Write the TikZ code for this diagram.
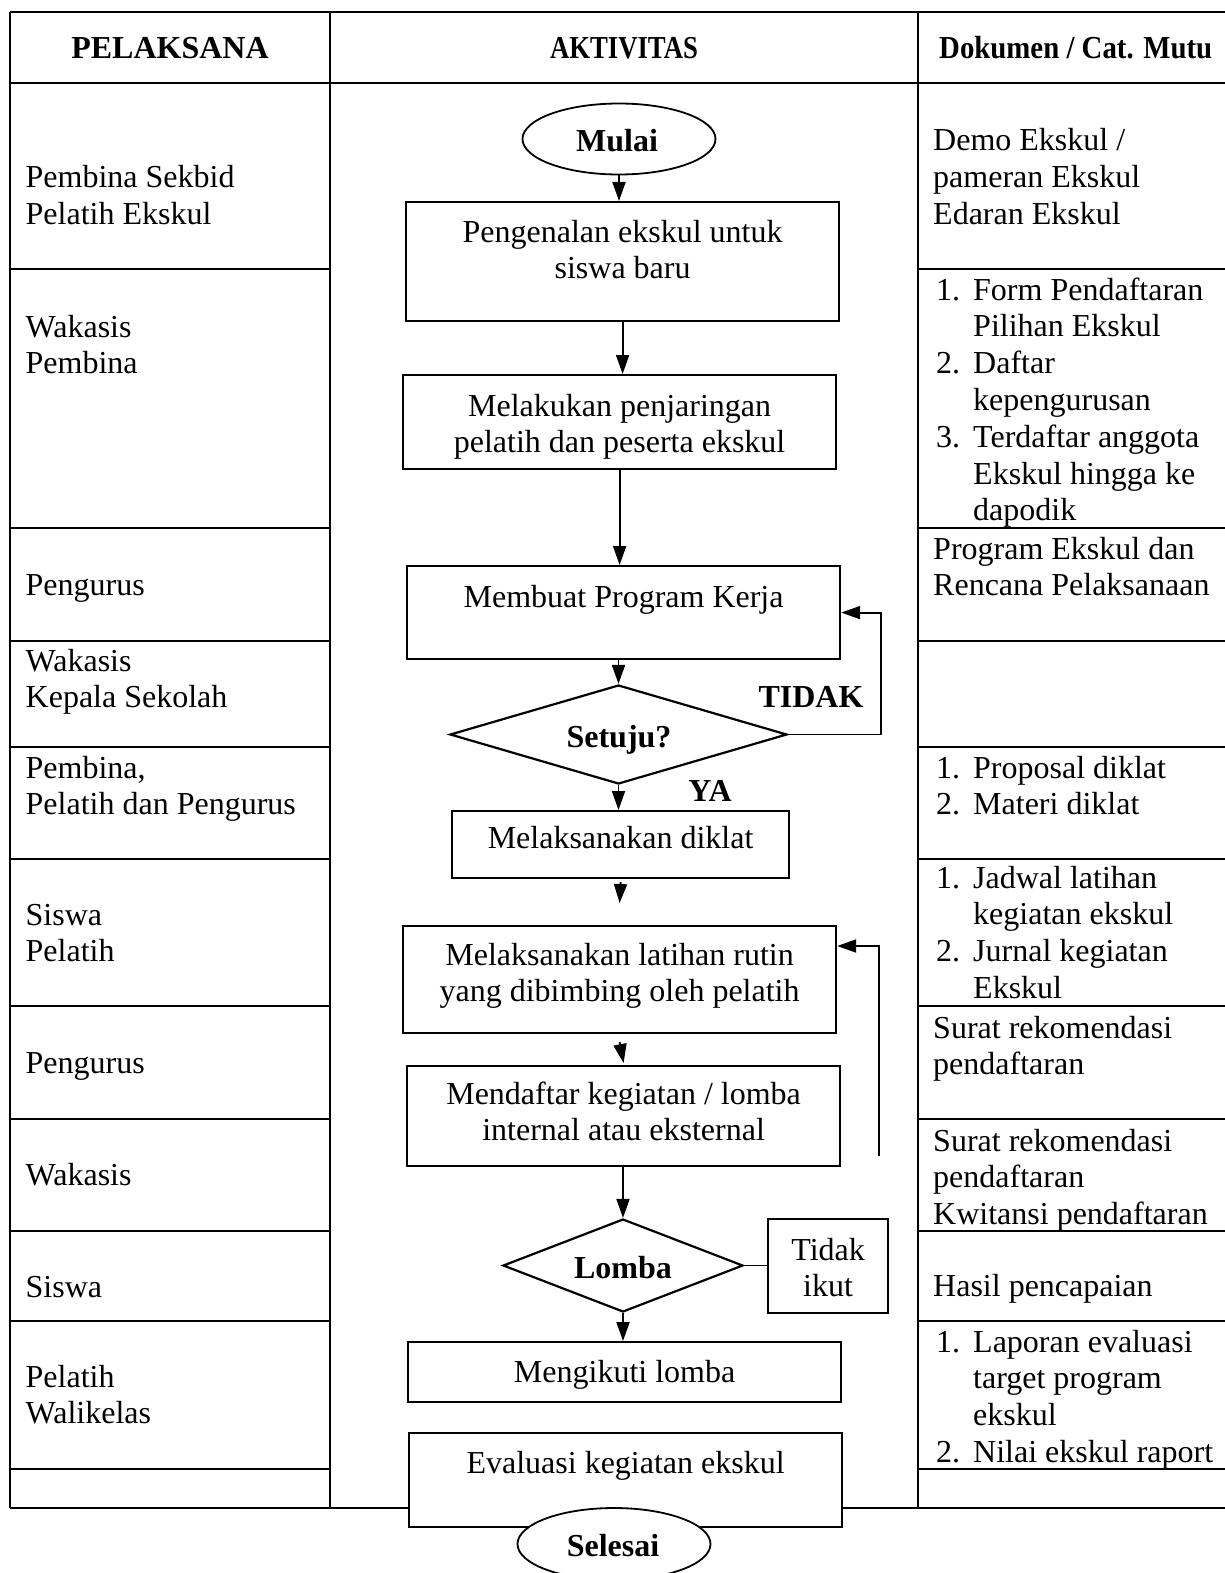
\documentclass[tikz,border=0pt]{standalone}
\usepackage{fontspec}
\setmainfont{Liberation Serif}
\usepackage{graphicx}
\usetikzlibrary{arrows.meta,shapes.geometric}
\newcommand\ML[1]{\begin{tabular}[t]{@{}l@{}}#1\end{tabular}}
\newcommand\MC[1]{\begin{tabular}[t]{@{}c@{}}#1\end{tabular}}
\newcommand\lnum[1]{\hspace*{3pt}\makebox[37pt][l]{#1}}
\newcommand\lind{\hspace*{40pt}}
\begin{document}
\begin{tikzpicture}[x=1pt,y=-1pt,
  font=\fontsize{32}{36.8}\selectfont,
  tableh/.style={line width=2.6pt},
  tablev/.style={line width=1.8pt},
  box/.style={draw, line width=2.2pt, fill=white, rectangle, inner sep=0pt, anchor=north west},
  term/.style={draw, line width=1.8pt, fill=white, ellipse, inner sep=0pt},
  decis/.style={draw, line width=2.2pt, fill=white, diamond, inner sep=0pt},
  arr/.style={line width=1.9pt, -{Triangle[length=19pt,width=13pt]}},
  plainline/.style={line width=1.9pt},
  ltxt/.style={inner sep=0pt, anchor=base west},
  ctxt/.style={inner sep=0pt, anchor=base},
  btxt/.style={inner sep=0pt, anchor=base, font=\fontsize{32}{36.8}\selectfont\bfseries}]
\useasboundingbox (0,0) rectangle (1224,1573);
% table
\draw[tableh] (10,12) -- (1230,12);
\draw[tableh] (10,83) -- (1230,83);
\foreach \yy in {269,528,641,747,859,1006,1119,1231,1321,1469} {
  \draw[tableh] (10,\yy) -- (330,\yy);
  \draw[tableh] (918,\yy) -- (1230,\yy);
}
\draw[tableh] (10,1508) -- (1230,1508);
\draw[tableh] (10,12) -- (10,1508);
\draw[tablev] (330,12) -- (330,1508);
\draw[tablev] (918,12) -- (918,1508);
% headers
\node[btxt] (h1) at (170,59) {PELAKSANA};
\node[btxt] (h2) at (624,59) {\resizebox{148pt}{\height}{AKTIVITAS}};
\node[btxt, anchor=base west] (h3) at (939,59) {\resizebox{273pt}{\height}{Dokumen / Cat. Mutu}};
% pelaksana
\node[ltxt] (p1) at (25.5,188) {\ML{Pembina Sekbid\\Pelatih Ekskul}};
\node[ltxt] (p2) at (25.5,337) {\ML{Wakasis\\Pembina}};
\node[ltxt] (p3) at (25.5,595) {Pengurus};
\node[ltxt] (p4) at (25.5,671) {\ML{Wakasis\\Kepala Sekolah}};
\node[ltxt] (p5) at (25.5,778) {\ML{Pembina,\\Pelatih dan Pengurus}};
\node[ltxt] (p6) at (25.5,925) {\ML{Siswa\\Pelatih}};
\node[ltxt] (p7) at (25.5,1073) {Pengurus};
\node[ltxt] (p8) at (25.5,1185) {Wakasis};
\node[ltxt] (p9) at (25.5,1297) {Siswa};
\node[ltxt] (p10) at (25.5,1387) {\ML{Pelatih\\Walikelas}};
% dokumen
\node[ltxt] (k1) at (933,151) {\ML{Demo Ekskul /\\pameran Ekskul\\Edaran Ekskul}};
\node[ltxt] (k2) at (933,300) {\ML{\lnum{1.}Form Pendaftaran\\\lind Pilihan Ekskul\\\lnum{2.}Daftar\\\lind kepengurusan\\\lnum{3.}Terdaftar anggota\\\lind Ekskul hingga ke\\\lind dapodik}};
\node[ltxt] (k3) at (933,559) {\ML{Program Ekskul dan\\Rencana Pelaksanaan}};
\node[ltxt] (k5) at (933,778) {\ML{\lnum{1.}Proposal diklat\\\lnum{2.}Materi diklat}};
\node[ltxt] (k6) at (933,888) {\ML{\lnum{1.}Jadwal latihan\\\lind kegiatan ekskul\\\lnum{2.}Jurnal kegiatan\\\lind Ekskul}};
\node[ltxt] (k7) at (933,1038) {\ML{Surat rekomendasi\\pendaftaran}};
\node[ltxt] (k8) at (933,1151) {\ML{Surat rekomendasi\\pendaftaran\\Kwitansi pendaftaran}};
\node[ltxt] (k9) at (933,1296) {Hasil pencapaian};
\node[ltxt] (k10) at (933,1352) {\ML{\lnum{1.}Laporan evaluasi\\\lind target program\\\lind ekskul\\\lnum{2.}Nilai ekskul raport}};
% flowchart shapes
\node[term, minimum width=193pt, minimum height=71pt] (start) at (619,139) {};
\node[btxt] (startt) at (617,152) {Mulai};
\node[box, minimum width=433pt, minimum height=119pt] (b1) at (405,201) {};
\node[ctxt] (b1t) at (b1.north |- 0,242) {\MC{Pengenalan ekskul untuk\\siswa baru}};
\node[box, minimum width=433pt, minimum height=94pt] (b2) at (402,374) {};
\node[ctxt] (b2t) at (b2.north |- 0,416) {\MC{Melakukan penjaringan\\pelatih dan peserta ekskul}};
\node[box, minimum width=433pt, minimum height=93pt] (b3) at (406,565) {};
\node[ctxt] (b3t) at (b3.north |- 0,607) {Membuat Program Kerja};
\node[decis, minimum width=337pt, minimum height=99pt] (q1) at (618.5,734.5) {};
\node[btxt] (q1t) at (619,747) {Setuju?};
\node[btxt] (tidak) at (811,707) {TIDAK};
\node[btxt] (ya) at (710,801) {YA};
\node[box, minimum width=337pt, minimum height=67pt] (b4) at (451,810) {};
\node[ctxt] (b4t) at (b4.north |- 0,848) {Melaksanakan diklat};
\node[box, minimum width=433pt, minimum height=107pt] (b5) at (402,925) {};
\node[ctxt] (b5t) at (b5.north |- 0,965) {\MC{Melaksanakan latihan rutin\\yang dibimbing oleh pelatih}};
\node[box, minimum width=433pt, minimum height=100pt] (b6) at (406,1065) {};
\node[ctxt] (b6t) at (b6.north |- 0,1104) {\MC{Mendaftar kegiatan / lomba\\internal atau eksternal}};
\node[decis, minimum width=240pt, minimum height=93pt] (q2) at (623,1265.5) {};
\node[btxt] (q2t) at (623,1278) {Lomba};
\node[box, minimum width=120pt, minimum height=94pt] (tk) at (767,1218) {};
\node[ctxt] (tkt) at (tk.north |- 0,1260) {\MC{Tidak\\ikut}};
\node[box, minimum width=433pt, minimum height=60pt] (b7) at (407,1341) {};
\node[ctxt] (b7t) at (b7.north |- 0,1382) {Mengikuti lomba};
\node[box, minimum width=433pt, minimum height=94pt] (b8) at (408,1432) {};
\node[ctxt] (b8t) at (b8.north |- 0,1473) {Evaluasi kegiatan ekskul};
\node[term, minimum width=193pt, minimum height=72pt] (stop) at (614,1544) {};
\node[btxt] (stopt) at (613,1556) {Selesai};
% connectors
\coordinate (r1) at (881,0);
\coordinate (r2b) at (879,1156);
\coordinate (r2t) at (879,946);
\draw[arr] (start.south) -- (start.south |- b1.north);
\draw[arr] (b1.south) -- (b1.south |- b2.north);
\draw[arr] (b2.south) -- (b2.south |- b3.north);
\draw[arr] (b3.south -| q1.north) -- (q1.north);
\draw[arr] (q1.south) -- (q1.south |- b4.north);
\draw[arr] (q1.east) -- (q1.east -| r1) -- (b3.east -| r1) -- (b3.east);
\draw[arr] ([yshift=-3pt]b4.south) -- ([yshift=22pt]b5.north);
\draw[arr] ([yshift=-8pt]b5.south) -- ([yshift=2pt]b6.north);
\draw[arr] (r2b) -- (r2t) -- (r2t -| b5.east);
\draw[arr] (b6.south -| q2.north) -- (q2.north);
\draw[plainline] (q2.east) -- (q2.east -| tk.west);
\draw[arr] (q2.south) -- (q2.south |- b7.north);
\end{tikzpicture}
\end{document}
